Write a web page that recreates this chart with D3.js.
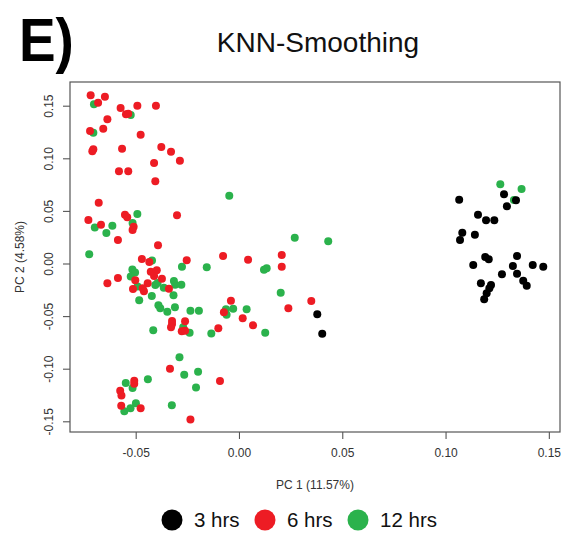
<!DOCTYPE html>
<html><head><meta charset="utf-8">
<script src="https://cdn.jsdelivr.net/npm/d3@7"></script>
<style>body{margin:0;background:#fff}svg{display:block;font-family:"Liberation Sans",Arial,sans-serif}</style>
</head><body>
<script>
const groups = ["3 hrs", "6 hrs", "12 hrs"];
const groupColors = ["#000000", "#ED1C24", "#2BB24C"];
const xTicks = [-0.05, 0.00, 0.05, 0.10, 0.15];
const yTicks = [-0.15, -0.10, -0.05, 0.00, 0.05, 0.10, 0.15];
const xDomain = [-0.0818, 0.1554];
const yDomain = [-0.1597, 0.1730];

// 12 hrs (green) [PC1, PC2]
const hrs12 = [
[-0.0702,0.1518],[-0.0524,0.1416],[-0.0705,0.1248],[-0.0698,0.0347],[-0.0613,0.0364],[-0.0642,0.0295],
[-0.0492,0.0475],[-0.0515,0.0390],[-0.0725,0.0092],[-0.0421,0.0033],[-0.0276,-0.0026],[-0.0156,-0.0030],
[-0.0516,-0.0052],[-0.0503,-0.0081],[-0.0524,-0.0119],[-0.0491,-0.0214],[-0.0405,-0.0200],[-0.0394,-0.0181],
[-0.0364,-0.0225],[-0.0315,-0.0162],[-0.0309,-0.0197],[-0.0279,-0.0197],[-0.0317,-0.0298],[-0.0483,-0.0344],
[-0.0422,-0.0304],[-0.0390,-0.0393],[-0.0381,-0.0421],[-0.0347,-0.0453],[-0.0310,-0.0411],[-0.0235,-0.0445],
[-0.0194,-0.0445],[-0.0270,-0.0601],[-0.0239,-0.0653],[-0.0415,-0.0630],[-0.0134,-0.0661],[-0.0047,0.0649],
[0.0270,0.0250],[0.0432,0.0216],[0.0121,-0.0054],[0.0134,-0.0041],[0.0202,-0.0273],[-0.0063,-0.0431],
[-0.0028,-0.0425],[-0.0060,-0.0482],[0.0037,-0.0431],[0.0127,-0.0653],[-0.0288,-0.0886],[-0.0265,-0.1052],
[-0.0198,-0.1024],[-0.0208,-0.1174],[-0.0325,-0.1342],[-0.0441,-0.1095],[-0.0548,-0.1131],[-0.0515,-0.1179],
[-0.0499,-0.1324],[-0.0525,-0.1371],[-0.0555,-0.1400],[0.1265,0.0758],[0.1368,0.0713],[0.1331,0.0608]
];
// 6 hrs (red)
const hrs6 = [
[-0.0718,0.1604],[-0.0682,0.1533],[-0.0649,0.1590],[-0.0573,0.1483],[-0.0547,0.1423],[-0.0536,0.1429],
[-0.0492,0.1505],[-0.0402,0.1505],[-0.0637,0.1375],[-0.0657,0.1286],[-0.0721,0.1264],[-0.0476,0.1229],
[-0.0705,0.1090],[-0.0710,0.1071],[-0.0566,0.1096],[-0.0376,0.1112],[-0.0329,0.1067],[-0.0411,0.0960],
[-0.0286,0.0982],[-0.0581,0.0881],[-0.0536,0.0881],[-0.0405,0.0786],[-0.0679,0.0583],[-0.0729,0.0418],
[-0.0668,0.0374],[-0.0552,0.0469],[-0.0541,0.0444],[-0.0510,0.0355],[-0.0515,0.0323],[-0.0586,0.0228],
[-0.0300,0.0463],[-0.0392,0.0178],[-0.0470,0.0048],[-0.0434,0.0019],[-0.0253,0.0035],[-0.0427,-0.0073],
[-0.0398,-0.0060],[-0.0411,-0.0114],[-0.0373,-0.0140],[-0.0586,-0.0133],[-0.0637,-0.0183],[-0.0502,-0.0155],
[-0.0442,-0.0183],[-0.0513,-0.0238],[-0.0466,-0.0231],[-0.0460,-0.0260],[-0.0339,-0.0235],[-0.0324,-0.0542],
[-0.0324,-0.0570],[-0.0329,-0.0602],[-0.0261,-0.0545],[-0.0277,-0.0640],[-0.0261,-0.0634],[-0.0334,-0.0995],
[-0.0507,-0.1109],[-0.0507,-0.1138],[-0.0575,-0.1204],[-0.0569,-0.1250],[-0.0570,-0.1348],[-0.0476,-0.1371],
[-0.0235,-0.1478],[-0.0092,-0.1112],[-0.0077,0.0076],[0.0044,0.0041],[0.0207,0.0086],[0.0207,-0.0026],
[-0.0039,-0.0349],[0.0350,-0.0352],[0.0239,-0.0421],[-0.0073,-0.0459],[0.0018,-0.0516],[0.0068,-0.0583],
[-0.0100,-0.0611]
];
// 3 hrs (black)
const hrs3 = [
[0.0379,-0.0478],[0.0403,-0.0663],[0.1283,0.0663],[0.1341,0.0606],[0.1297,0.0548],[0.1066,0.0611],
[0.1157,0.0469],[0.1196,0.0415],[0.1236,0.0415],[0.1081,0.0298],[0.1070,0.0228],[0.1142,0.0279],
[0.1192,0.0067],[0.1209,0.0045],[0.1134,-0.0010],[0.1346,0.0076],[0.1326,-0.0019],[0.1422,-0.0010],
[0.1473,-0.0026],[0.1273,-0.0098],[0.1346,-0.0092],[0.1376,-0.0159],[0.1393,-0.0206],[0.1171,-0.0183],
[0.1220,-0.0200],[0.1212,-0.0231],[0.1199,-0.0279],[0.1187,-0.0336]
];

const W = 563, H = 536;
const box = {left: 70, right: 560, top: 82, bottom: 432};
const svg = d3.select("body").append("svg").attr("width", W).attr("height", H);

const x = d3.scaleLinear().domain(xDomain).range([box.left, box.right]);
const y = d3.scaleLinear().domain(yDomain).range([box.bottom, box.top]);

// panel label and title
svg.append("text").attr("x", 19).attr("y", 61).attr("font-size", 61).attr("font-weight", "bold")
  .attr("fill", "#000").attr("transform", "translate(19,0) scale(0.9,1) translate(-19,0)").text("E)");
svg.append("text").attr("x", (box.left + box.right) / 2 + 3).attr("y", 52).attr("text-anchor", "middle")
  .attr("font-size", 28).attr("fill", "#111").text("KNN-Smoothing");

// points: green, red, black order
const layers = [[hrs12, 2], [hrs6, 1], [hrs3, 0]];
layers.forEach(([data, gi]) => {
  svg.append("g").selectAll("circle").data(data).join("circle")
    .attr("cx", d => x(d[0])).attr("cy", d => y(d[1])).attr("r", 4)
    .attr("fill", groupColors[gi]);
});

// box
svg.append("rect").attr("x", box.left).attr("y", box.top)
  .attr("width", box.right - box.left).attr("height", box.bottom - box.top)
  .attr("fill", "none").attr("stroke", "#555").attr("stroke-width", 1.2);

// axes
const xAxis = svg.append("g").attr("transform", `translate(0,${box.bottom})`)
  .call(d3.axisBottom(x).tickValues(xTicks).tickFormat(d3.format(".2f")).tickSizeOuter(0).tickSizeInner(7).tickPadding(9));
const yAxis = svg.append("g").attr("transform", `translate(${box.left},0)`)
  .call(d3.axisLeft(y).tickValues(yTicks).tickFormat(d3.format(".2f")).tickSizeOuter(0).tickSizeInner(7).tickPadding(0));
[xAxis, yAxis].forEach(a => {
  a.select(".domain").remove();
  a.selectAll(".tick line").attr("stroke", "#555").attr("stroke-width", 1.1);
  a.selectAll("text").attr("font-size", 12).attr("fill", "#333").attr("font-family", "Liberation Sans, Arial, sans-serif");
});
xAxis.selectAll("text").text(d => d3.format(".2f")(d).replace("−", "-"));
yAxis.selectAll("text")
  .text(d => d3.format(".2f")(d).replace("−", "-"))
  .attr("x", 0).attr("dy", null).attr("text-anchor", "middle")
  .attr("transform", d => `translate(-21,${y(d)}) rotate(-90)`)
  .attr("y", 4);
yAxis.selectAll(".tick").attr("transform", "translate(0,0)");
yAxis.selectAll(".tick line").attr("y1", d => y(d)).attr("y2", d => y(d));

// axis titles
svg.append("text").attr("x", (box.left + box.right) / 2).attr("y", 489).attr("text-anchor", "middle")
  .attr("font-size", 12).attr("fill", "#333").text("PC 1 (11.57%)");
svg.append("text").attr("transform", `translate(24,${(box.top + box.bottom) / 2}) rotate(-90)`)
  .attr("text-anchor", "middle").attr("font-size", 12).attr("fill", "#333").text("PC 2 (4.58%)");

// legend
const legendX = [172, 265, 358];
const leg = svg.append("g");
groups.forEach((g, i) => {
  leg.append("circle").attr("cx", legendX[i]).attr("cy", 520).attr("r", 10.5).attr("fill", groupColors[i]);
  leg.append("text").attr("x", legendX[i] + 22).attr("y", 527).attr("font-size", 20.5).attr("fill", "#111").text(g);
});
</script>
</body></html>
